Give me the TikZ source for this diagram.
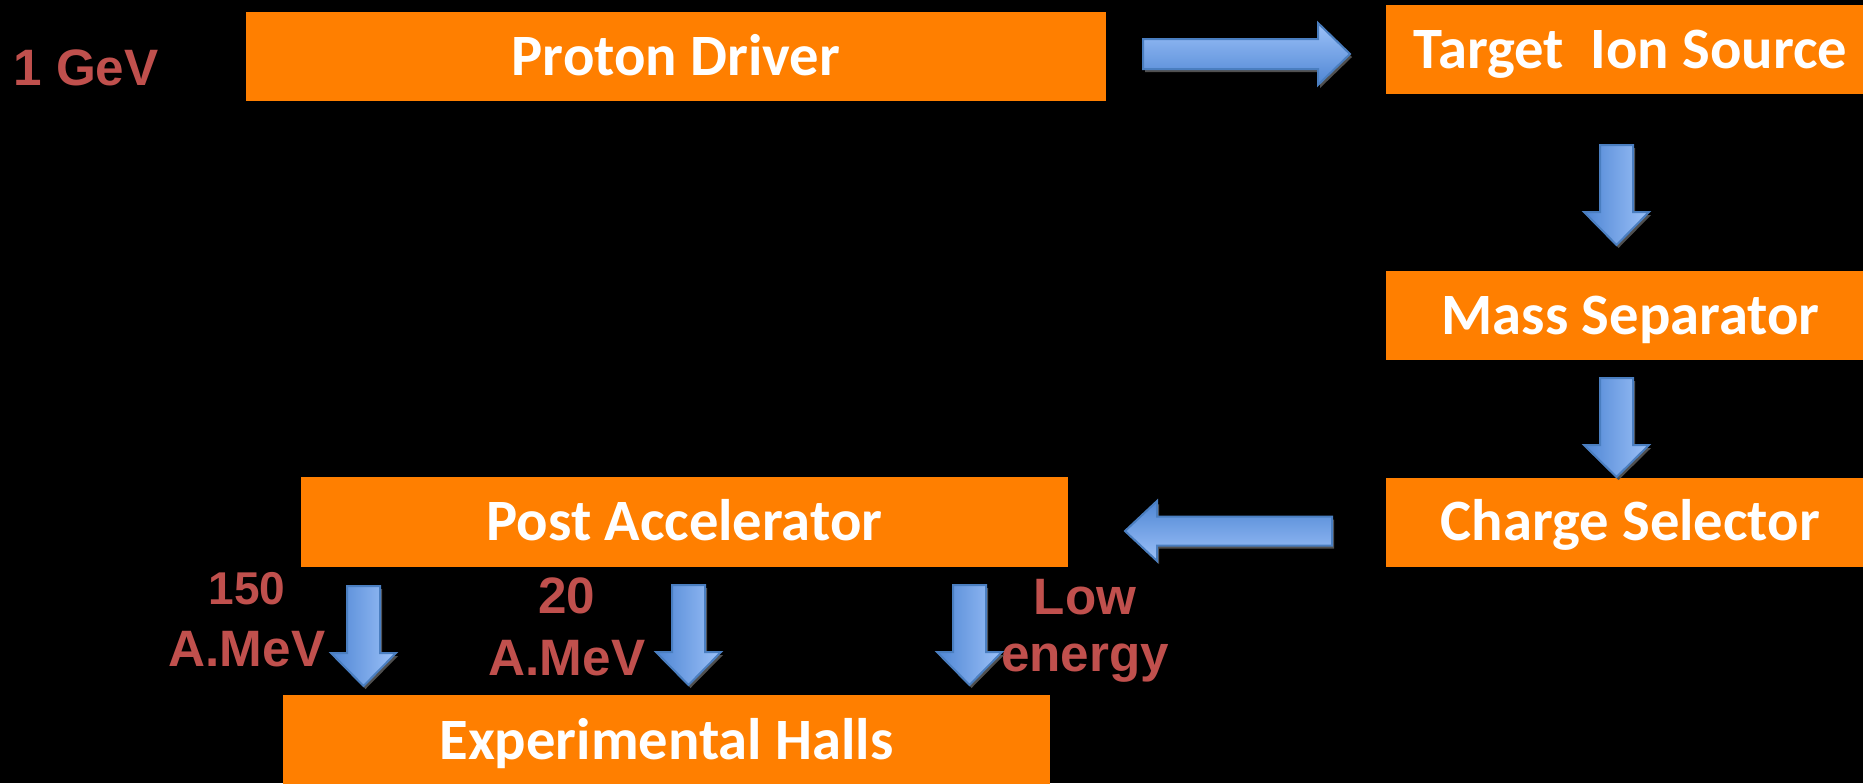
\documentclass[tikz,border=0pt]{standalone}
\usepackage{fontspec}
\setmainfont{Carlito}
\newfontfamily\labfont{Liberation Sans}
\definecolor{boxorange}{HTML}{FF7F00}
\definecolor{labred}{HTML}{C0504D}
\definecolor{arrlight}{HTML}{9CC1F8}
\definecolor{arrdark}{HTML}{4F86D4}
\definecolor{arredge}{HTML}{4A7EC0}
\definecolor{arrshadow}{HTML}{505050}
\tikzset{
  box/.style={fill=boxorange, draw=none, text=white, inner sep=0pt,
    font=\fontsize{29.3pt}{35pt}\selectfont\bfseries, text height=18.9pt, text depth=0pt},
  lab/.style={text=labred, inner sep=0pt, align=center,
    font=\labfont\bfseries\fontsize{25.6pt}{31pt}\selectfont},
  arredgestyle/.style={draw=arredge, line width=1pt, line join=miter},
  arrshadowstyle/.style={fill=arrshadow, xshift=1pt, yshift=-1.5pt},
}
% horizontal block arrow: #1 tail x, #2 head base x, #3 tip x, #4 centre y, #5 shaft half, #6 head half, #7 shading
\newcommand\myHArrow[7]{%
  \fill[arrshadowstyle] (#1,{#4-#5}) -- (#2,{#4-#5}) -- (#2,{#4-#6}) -- (#3,#4) -- (#2,{#4+#6}) -- (#2,{#4+#5}) -- (#1,{#4+#5}) -- cycle;
  \shadedraw[#7, arredgestyle] (#1,{#4-#5}) -- (#2,{#4-#5}) -- (#2,{#4-#6}) -- (#3,#4) -- (#2,{#4+#6}) -- (#2,{#4+#5}) -- (#1,{#4+#5}) -- cycle;
}
% vertical block arrow: #1 tail y, #2 head base y, #3 tip y, #4 centre x, #5 shaft half, #6 head half
\newcommand\myVArrow[6]{%
  \fill[arrshadowstyle] ({#4-#5},#1) -- ({#4-#5},#2) -- ({#4-#6},#2) -- (#4,#3) -- ({#4+#6},#2) -- ({#4+#5},#2) -- ({#4+#5},#1) -- cycle;
  \shadedraw[left color=arrdark, right color=arrlight, arredgestyle] ({#4-#5},#1) -- ({#4-#5},#2) -- ({#4-#6},#2) -- (#4,#3) -- ({#4+#6},#2) -- ({#4+#5},#2) -- ({#4+#5},#1) -- cycle;
}
\begin{document}
\begin{tikzpicture}[x=0.5pt,y=-0.5pt]
\fill[black] (0,0) rectangle (1863,783);
\useasboundingbox (0,0) rectangle (1863,783);

% boxes
\node[box, minimum width=430pt, minimum height=44.5pt] (pd) at (676,56.5) {Proton Driver};
\node[box, minimum width=244.5pt, minimum height=44.5pt] (tis) at (1630.5,49.5) {Target\ \ Ion Source};
\node[box, minimum width=244.5pt, minimum height=44.5pt] (ms) at (1630.5,315.5) {Mass Separator};
\node[box, minimum width=244.5pt, minimum height=44.5pt] (cs) at (1630.5,522) {Charge Selector};
\node[box, minimum width=383.5pt, minimum height=45pt] (pa) at (684.5,522) {Post Accelerator};
\node[box, minimum width=383.5pt, minimum height=45.5pt] (eh) at (666.5,740.5) {Experimental Halls};

% labels
\node[lab, anchor=base west] (gev) at (13,85) {1 GeV};
\node[lab] (l150) at (247,620) {{\fontsize{23pt}{31pt}\selectfont 150}\\A.MeV};
\node[lab] (l20) at (567,627) {20\\A.MeV};
\node[lab, font=\labfont\bfseries\fontsize{25.6pt}{28.5pt}\selectfont] (llow) at (1085,630.5) {Low\\energy};

% arrows
\myHArrow{1143}{1318}{1350}{54}{15}{31}{top color=arrlight, bottom color=arrdark}
\myVArrow{145}{212}{245}{1616.5}{16.5}{32.5}
\myVArrow{378}{445}{477}{1616.5}{16.5}{32.5}
\myHArrow{1332}{1157}{1125}{531}{14.5}{30}{top color=arrdark, bottom color=arrlight}
\myVArrow{586}{653}{686}{363.5}{16.5}{32.5}
\myVArrow{585}{652}{685}{688.5}{16.5}{32.5}
\myVArrow{585}{652}{685}{969.5}{16.5}{32.5}
\end{tikzpicture}
\end{document}
